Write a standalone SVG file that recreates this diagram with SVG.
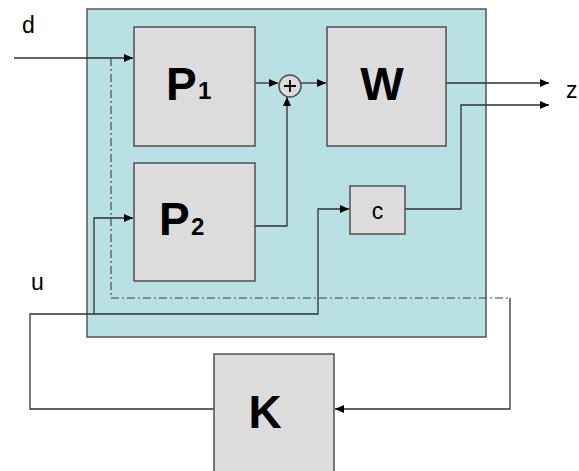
<svg xmlns="http://www.w3.org/2000/svg" width="579" height="471" viewBox="0 0 579 471">
<style>
.blk{fill:#dcdcdc;stroke:#505050;stroke-width:1.5}
.big{font-family:"Liberation Sans",Arial,sans-serif;font-weight:bold;font-size:46px;fill:#000}
.sub{font-family:"Liberation Sans",Arial,sans-serif;font-weight:bold;font-size:24px;fill:#000}
.lbl{font-family:"Liberation Sans",Arial,sans-serif;font-size:23px;fill:#000}
.ln{fill:none;stroke:#303030;stroke-width:1.3}
.dd{fill:none;stroke:#404040;stroke-width:1.1;stroke-dasharray:8 3 2 3}
</style>
<defs>
<marker id="ah" markerUnits="userSpaceOnUse" markerWidth="10" markerHeight="8" refX="9" refY="4" orient="auto">
<path d="M0,0 L9,4 L0,8 Z" fill="#000"/>
</marker>
</defs>
<rect id="plant" x="87" y="9" width="399" height="328" fill="#b9e0e3" stroke="#555" stroke-width="1.5"/>
<g id="connectors">
<path class="ln" d="M14,58 H133" marker-end="url(#ah)"/>
<path class="dd" d="M111,58 V298 H510"/>
<path class="ln" d="M510,298 V409 H335" marker-end="url(#ah)"/>
<path class="ln" d="M214,409 H30 V314 H318 V209 H349" marker-end="url(#ah)"/>
<path class="ln" d="M94,314 V218 H133" marker-end="url(#ah)"/>
<path class="ln" d="M255,83 H278" marker-end="url(#ah)"/>
<path class="ln" d="M301,83 H326" marker-end="url(#ah)"/>
<path class="ln" d="M255,226 H287 V97" marker-end="url(#ah)"/>
<path class="ln" d="M446,83 H549" marker-end="url(#ah)"/>
<path class="ln" d="M405,209 H461 V105 H549" marker-end="url(#ah)"/>
</g>
<g id="P1"><rect class="blk" x="134" y="27" width="121" height="119"/><text x="166" y="100" class="big">P</text><text x="198" y="99" class="sub">1</text></g>
<g id="P2"><rect class="blk" x="134" y="163" width="121" height="118"/><text x="159" y="235" class="big">P</text><text x="191" y="235" class="sub">2</text></g>
<g id="W"><rect class="blk" x="327" y="27" width="119" height="119"/><text x="382" y="99.5" class="big" text-anchor="middle">W</text></g>
<g id="sum"><circle cx="290" cy="86" r="11" fill="#dcdcdc" stroke="#505050" stroke-width="1.5"/><path d="M284,86 H296 M290,80 V92" stroke="#000" stroke-width="1.8"/></g>
<g id="c"><rect class="blk" x="350" y="186" width="55" height="48"/><text x="377.5" y="219" class="lbl" text-anchor="middle">c</text></g>
<g id="K"><rect class="blk" x="214" y="354" width="120" height="122"/><text x="265" y="427.5" class="big" text-anchor="middle">K</text></g>
<text x="22" y="33" class="lbl">d</text>
<text x="31" y="290" class="lbl">u</text>
<text x="566" y="98" class="lbl">z</text>
</svg>
